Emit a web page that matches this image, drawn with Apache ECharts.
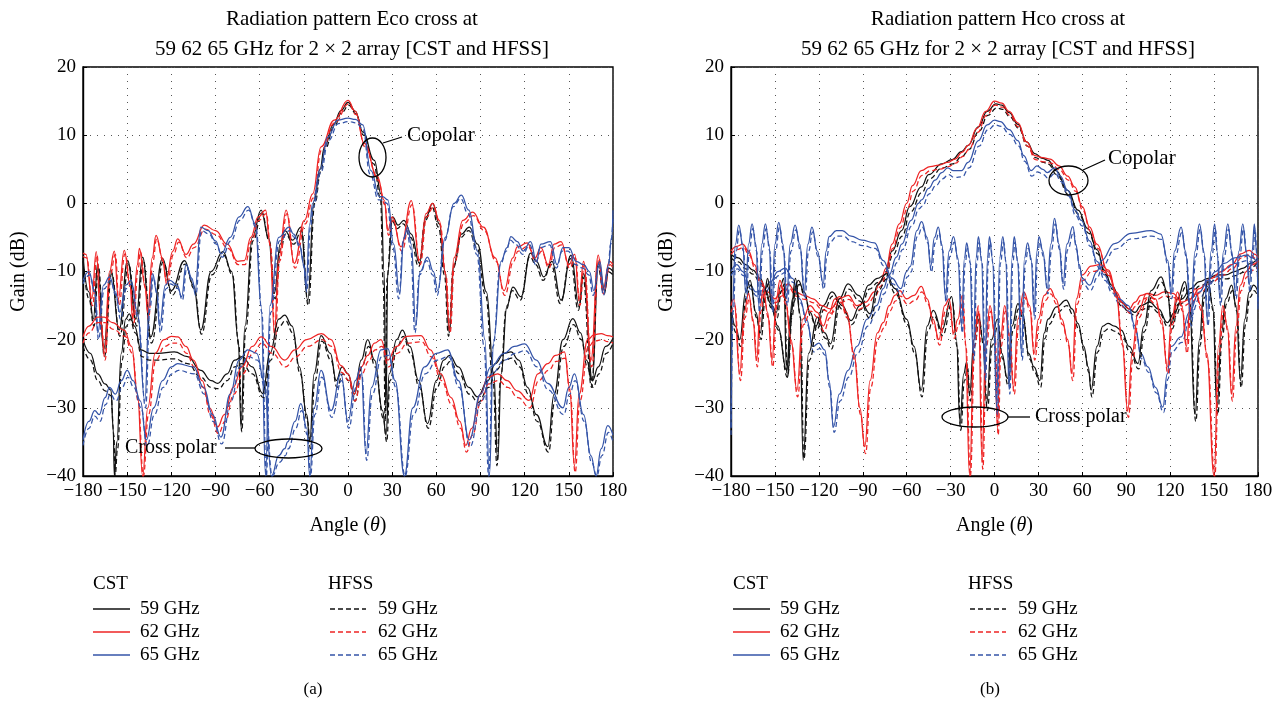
<!DOCTYPE html>
<html><head><meta charset="utf-8">
<script src="https://cdn.jsdelivr.net/npm/echarts@6/dist/echarts.min.js"></script>
<style>html,body{margin:0;padding:0;background:#fff}#c{width:1284px;height:710px}</style>
</head><body><div id="c"></div>
<script>
// ---------- tick labels / titles ----------
const xTicks = [-180,-150,-120,-90,-60,-30,0,30,60,90,120,150,180];
const yTicks = [-40,-30,-20,-10,0,10,20];
const titlesA = ['Radiation pattern Eco cross at','59 62 65 GHz for 2 × 2 array [CST and HFSS]'];
const titlesB = ['Radiation pattern Hco cross at','59 62 65 GHz for 2 × 2 array [CST and HFSS]'];
const freqs = ['59 GHz','62 GHz','65 GHz'];

// ---------- panel (a) : [angle, gain dB] ----------
const a_co59_cst = [[-180,-8],[-176,-13],[-173,-17],[-170,-8.8],[-166,-21.5],[-161,-9.8],[-155.5,-18.6],[-149.7,-8.4],[-144,-17],[-139.5,-7.9],[-134,-19.6],[-126,-8.1],[-120,-12.8],[-111,-8.4],[-105,-12],[-100,-18.6],[-93,-10],[-85,-7.1],[-79,-10],[-74.5,-20],[-72.7,-32.8],[-70,-18],[-65,-5],[-59,-1],[-54,-5],[-50,-13.2],[-46,-6],[-43,-4],[-37.6,-5.4],[-32,-3.5],[-27.4,-14.2],[-23,0.4],[-19,5],[-16,8.3],[-10,11.5],[-4.8,13.6],[0,14.8],[5,13.5],[10,10.5],[17.9,6.3],[22.4,1.4],[24.5,-10],[25.8,-30.4],[27,-10],[30.3,-2],[34,-3.2],[38,-2.5],[43,-4.5],[48.5,-8.8],[53,-2],[57.5,0],[62,-3],[66,-10],[68.8,-19],[72,-9],[77,-4.5],[82.4,-3.5],[88,-6],[94,-13],[99,-25],[101.7,-37.7],[104,-25],[108,-15],[112,-12.3],[117.5,-13.7],[124,-7.3],[128,-8.5],[133,-10.8],[138.5,-8.5],[144.7,-14.2],[151.5,-7.6],[157,-15.2],[160,-10.3],[166,-26],[170,-8.7],[174.5,-12.8],[177,-9.5],[180,-10]];
const a_co59_hfss = [[-180,-8.5],[-176,-14],[-172.5,-18],[-169.5,-9.3],[-165.5,-22.5],[-160.5,-10.3],[-155,-19.5],[-149,-8.9],[-143.5,-18],[-139,-8.4],[-133.5,-20.5],[-125.5,-8.6],[-119.5,-13.5],[-110.5,-8.9],[-104.5,-12.5],[-99.5,-19.2],[-92.5,-10.5],[-84.5,-7.6],[-78.5,-10.5],[-74,-21],[-72.2,-33.5],[-69.5,-18.5],[-64.5,-5.5],[-58.5,-1.4],[-53.5,-5.5],[-49.5,-14],[-45.5,-6.5],[-42.5,-4.5],[-37,-6],[-31.5,-4],[-27,-15],[-22.5,0],[-18.5,4.6],[-15.5,8],[-9.5,11.2],[-4.3,13.3],[0.5,14.4],[5.5,13.1],[10.5,10],[17.5,5.8],[22,0.8],[24,-12],[25.3,-32],[26.5,-11],[29.8,-2.5],[33.5,-3.7],[37.5,-3],[42.5,-5],[48,-9.3],[52.5,-2.5],[57,-0.5],[61.5,-3.5],[65.5,-10.5],[68.3,-19.5],[71.5,-9.5],[76.5,-5],[82,-4],[87.5,-6.5],[93.5,-13.5],[98.5,-26],[101.2,-38.5],[103.5,-26],[107.5,-15.5],[111.5,-12.8],[117,-14.2],[123.5,-7.8],[127.5,-9],[132.5,-11.3],[138,-9],[144.2,-14.7],[151,-8.1],[156.5,-15.7],[159.5,-10.8],[165.5,-27],[169.5,-9.2],[174,-13.3],[176.5,-10],[180,-10.5]];
const a_co62_cst = [[-180,-7.3],[-178,-7.5],[-174,-14],[-171,-7.1],[-168,-17],[-165.5,-22],[-162,-10],[-158.7,-7],[-156,-14],[-152,-6.9],[-148,-12],[-146.3,-17],[-143,-9],[-141.7,-6.6],[-138,-12],[-136,-16],[-133,-8],[-130.4,-4.7],[-126,-8],[-123.6,-11.3],[-119,-7],[-115.7,-5.2],[-110,-7.5],[-105,-6],[-97.6,-3.2],[-90,-4],[-82,-6],[-75,-8.5],[-70.4,-8.4],[-66,-5],[-61,-2],[-56,-1],[-53,-6],[-50,-19],[-47,-8],[-42,-1],[-36.5,-8.8],[-29.6,-2.5],[-24,1.4],[-18.3,8.3],[-9.3,12.2],[0,15.1],[5,13.5],[11,8.8],[20,3.9],[24.7,0.4],[27,-4],[30,-2],[36,-6.4],[43,0.4],[48.5,-8.3],[53,-1.5],[57.5,0],[62,-2.5],[66,-10],[68.8,-18.1],[72,-8],[78,-2.5],[84.7,-1.3],[92,-3.5],[100,-8],[106,-12.8],[112,-8],[115,-6.4],[121.7,-5.8],[127,-8],[131,-6.5],[136,-9],[140,-6],[144.7,-5.6],[150,-9],[154,-7.5],[157,-14],[160,-8.5],[165,-23],[170,-7.6],[173,-12.8],[177.6,-8.5],[180,-9]];
const a_co62_hfss = [[-180,-7.8],[-177.5,-8],[-173.5,-15],[-170.5,-7.6],[-167.5,-18],[-165,-23],[-161.5,-10.5],[-158,-7.5],[-155.5,-15],[-151.5,-7.4],[-147.5,-12.5],[-145.8,-18],[-142.5,-9.5],[-141,-7.1],[-137.5,-12.5],[-135.5,-17],[-132.5,-8.5],[-130,-5.2],[-125.5,-8.5],[-123,-12],[-118.5,-7.5],[-115,-5.7],[-109.5,-8],[-104.5,-6.5],[-97,-3.8],[-89.5,-4.6],[-81.5,-6.6],[-74.5,-9],[-70,-9],[-65.5,-5.5],[-60.5,-2.5],[-55.5,-1.5],[-52.5,-6.5],[-49.5,-20],[-46.5,-8.5],[-41.5,-1.5],[-36,-9.5],[-29,-3],[-23.5,0.8],[-18,7.8],[-9,11.8],[0.5,14.6],[5.5,13],[11.5,8.3],[20.5,3.4],[25,-0.2],[27.5,-4.7],[30.5,-2.5],[36.5,-7],[43.5,-0.2],[49,-9],[53.5,-2],[58,-0.5],[62.5,-3],[66.5,-10.5],[69.3,-19],[72.5,-8.5],[78.5,-3],[85.2,-1.8],[92.5,-4],[100.5,-8.5],[106.5,-13.5],[112.5,-8.5],[115.5,-7],[122.2,-6.3],[127.5,-8.5],[131.5,-7],[136.5,-9.5],[140.5,-6.5],[145.2,-6.1],[150.5,-9.5],[154.5,-8],[157.5,-15],[160.5,-9],[165.5,-24],[170.5,-8.1],[173.5,-13.3],[178,-9],[180,-9.5]];
const a_co65_cst = [[-180,-11.3],[-176,-10],[-172,-13],[-170,-19],[-166,-12],[-162,-10.8],[-158,-13],[-155,-16],[-151,-12],[-147.4,-11.3],[-143,-16],[-138,-29],[-135,-15],[-132.7,-10.3],[-130,-13],[-128,-18],[-124,-12],[-121,-11.3],[-116,-12],[-113,-13.7],[-110,-9],[-106,-11],[-104,-13],[-100,-3.5],[-95,-4],[-90,-5.5],[-86,-7.4],[-80,-5],[-74,-2],[-68,-0.5],[-63,-3],[-59,-15],[-56,-40],[-53,-15],[-47,-5],[-40,-3.5],[-37,-4.5],[-33,-6],[-30,-9],[-28.5,-12.3],[-26,-3],[-24,0],[-19,5],[-13.8,9.7],[-7,12.2],[0,12.5],[5,12.3],[10,11.5],[15.6,4.8],[21.3,1],[23.5,1],[27,0.5],[31,-6],[35,-13.2],[38,-5],[40.5,-3.5],[43,-6],[46,-18],[49,-10],[54,-7.9],[58,-10],[61,-12.8],[66,-5],[72,0],[77,1.2],[82,-1],[88,-7],[93,-20],[96,-40],[99,-20],[104,-8.5],[108,-6.5],[110.7,-4.9],[115,-5.6],[119,-7],[124,-5.6],[128,-8.5],[131,-6],[137.5,-5.6],[142,-9],[146,-6.5],[150,-6.5],[155,-8.5],[160,-9],[164,-10],[167,-12.8],[171,-8.5],[174,-12.8],[177,-9],[179,-5],[180,-1]];
const a_co65_hfss = [[-180,-11.8],[-175.5,-10.5],[-171.5,-13.5],[-169.5,-20],[-165.5,-12.5],[-161.5,-11.3],[-157.5,-13.5],[-154.5,-17],[-150.5,-12.5],[-147,-11.8],[-142.5,-17],[-137.5,-30],[-134.5,-15.5],[-132.2,-10.8],[-129.5,-13.5],[-127.5,-19],[-123.5,-12.5],[-120.5,-11.8],[-115.5,-12.5],[-112.5,-14.2],[-109.5,-9.5],[-105.5,-11.5],[-103.5,-13.5],[-99.5,-4],[-94.5,-4.5],[-89.5,-6],[-85.5,-7.9],[-79.5,-5.5],[-73.5,-2.5],[-67.5,-1],[-62.5,-3.5],[-58.5,-16],[-55.5,-40],[-52.5,-16],[-46.5,-5.5],[-39.5,-4],[-36.5,-5],[-32.5,-6.5],[-29.5,-9.5],[-28,-13],[-25.5,-3.5],[-23.5,-0.5],[-18.5,4.5],[-13.3,9.2],[-6.5,11.7],[0.5,12],[5.5,11.8],[10,11],[15,4.3],[20.8,0.5],[23,0.5],[26.5,0],[30.5,-6.5],[34.5,-14],[37.5,-5.5],[40,-4],[42.5,-6.5],[45.5,-19],[48.5,-10.5],[53.5,-8.4],[57.5,-10.5],[60.5,-13.5],[65.5,-5.5],[71.5,-0.5],[76.5,0.7],[81.5,-1.5],[87.5,-7.5],[92.5,-21],[95.5,-40],[98.5,-21],[103.5,-9],[107.5,-7],[110.2,-5.4],[114.5,-6.1],[118.5,-7.5],[123.5,-6.1],[127.5,-9],[130.5,-6.5],[137,-6.1],[141.5,-9.5],[145.5,-7],[149.5,-7],[154.5,-9],[159.5,-9.5],[163.5,-10.5],[166.5,-13.5],[170.5,-9],[173.5,-13.5],[176.5,-9.5],[178.5,-6],[180,-2]];
const a_x59_cst = [[-180,-20],[-175,-22],[-170,-25],[-165,-26.5],[-161,-27.4],[-159.5,-33],[-158.7,-40],[-157,-35],[-154,-22],[-151,-17],[-148.6,-16.2],[-145,-18],[-140.6,-21.5],[-135,-22],[-129,-22],[-118,-21.8],[-109,-22.5],[-100,-24.5],[-93,-26],[-88.5,-26.4],[-82,-25],[-77,-23],[-72,-22.5],[-65,-24],[-58,-27.9],[-53,-22],[-47,-17],[-43,-16.4],[-38,-18],[-33,-24],[-28,-31],[-26,-35],[-23,-25],[-18.3,-19.4],[-12,-22],[-8,-26],[-4,-24],[0,-25],[4.3,-28],[9,-23],[13.4,-20],[18,-23],[23.5,-30.4],[25.8,-34],[28,-25],[33,-20],[37,-18.6],[42,-21],[48,-26],[54,-32.3],[60,-26],[65,-23],[69,-22.3],[75,-24],[82,-27],[88,-28.4],[95,-26],[100,-23.5],[106,-22],[110.7,-21.8],[116,-23],[122,-27],[128,-31],[135.7,-35.7],[140,-28],[146,-20],[152.7,-16.9],[158,-19],[162,-23],[166,-26],[170,-24],[175,-21],[180,-19.8]];
const a_x59_hfss = [[-180,-21],[-175,-23],[-170,-26],[-165,-27.5],[-161,-28.2],[-159,-34],[-158.2,-40],[-156.5,-36],[-153.5,-23],[-150.5,-18],[-148,-17],[-144.5,-19],[-140,-22.5],[-135,-23],[-129,-23],[-118,-22.8],[-109,-23.5],[-100,-25.5],[-93,-27],[-88,-27.2],[-82,-26],[-77,-24],[-72,-23.5],[-65,-25],[-57.5,-28.5],[-52.5,-23],[-46.5,-18],[-42.5,-17.2],[-37.5,-19],[-32.5,-25],[-27.5,-32],[-25.5,-36],[-22.5,-26],[-17.8,-20.2],[-11.5,-23],[-7.5,-27],[-3.5,-25],[0.5,-26],[4.8,-29],[9.5,-24],[13.9,-21],[18.5,-24],[24,-31.5],[26.3,-35],[28.5,-26],[33.5,-21],[37.5,-19.5],[42.5,-22],[48.5,-27],[54.5,-33],[60.5,-27],[65.5,-24],[69.5,-23.2],[75.5,-25],[82.5,-28],[88.5,-29.2],[95.5,-27],[100.5,-24.5],[106.5,-23],[111.2,-22.7],[116.5,-24],[122.5,-28],[128.5,-32],[136.2,-36.5],[140.5,-29],[146.5,-21],[153.2,-17.8],[158.5,-20],[162.5,-24],[166.5,-27],[170.5,-25],[175.5,-22],[180,-20.5]];
const a_x62_cst = [[-180,-19.6],[-176,-18],[-170,-16.7],[-165.5,-16.7],[-160,-17.5],[-152,-18.6],[-147,-21],[-143,-28],[-139.5,-40],[-136,-30],[-131,-22],[-125,-20],[-120,-19.5],[-115.7,-19.6],[-110,-21],[-105,-23],[-99,-26],[-94,-30],[-88.5,-32.8],[-84,-31],[-78,-27],[-72,-24],[-65,-21],[-59,-19.6],[-52,-21],[-43,-23],[-36,-21.5],[-28,-20],[-18,-19.1],[-11.5,-20],[-4.8,-23.8],[0,-25],[4.3,-28],[9,-24],[13.4,-22.3],[18,-20.5],[22.4,-20],[27,-23],[33,-21],[40,-19.5],[49.6,-19.4],[56,-21.5],[63,-25],[70,-28.5],[76,-32],[80,-35.5],[84,-33],[90,-28],[95,-25.5],[101.7,-25],[108,-26],[115,-27.5],[123,-28.9],[129,-25],[135.7,-23.5],[141,-22.3],[147,-21.8],[150.5,-27],[153.8,-38.5],[157,-28],[162.8,-20],[167,-19.3],[172,-19.1],[176,-19.4],[180,-19.6]];
const a_x62_hfss = [[-180,-20.5],[-176,-19],[-170,-17.5],[-165,-17.5],[-159.5,-18.5],[-151.5,-19.5],[-146.5,-22],[-142.5,-29],[-139,-40],[-135.5,-31],[-130.5,-23],[-124.5,-21],[-119.5,-20.5],[-115.2,-20.5],[-109.5,-22],[-104.5,-24],[-98.5,-27],[-93.5,-31],[-88,-33.8],[-83.5,-32],[-77.5,-28],[-71.5,-25],[-64.5,-22],[-58.5,-20.5],[-51.5,-22],[-42.5,-24],[-35.5,-22.5],[-27.5,-21],[-17.5,-20],[-11,-21],[-4.3,-24.8],[0.5,-26],[4.8,-29],[9.5,-25],[13.9,-23.2],[18.5,-21.5],[23,-21],[27.5,-24],[33.5,-22],[40.5,-20.5],[50.1,-20.3],[56.5,-22.5],[63.5,-26],[70.5,-29.5],[76.5,-33],[80.5,-36.5],[84.5,-34],[90.5,-29],[95.5,-26.5],[102.2,-26],[108.5,-27],[115.5,-28.5],[123.5,-30],[129.5,-26],[136.2,-24.5],[141.5,-23.2],[147.5,-22.7],[151,-28],[154.3,-39.5],[157.5,-29],[163.3,-21],[167.5,-20.2],[172.5,-20],[176.5,-20.3],[180,-20.5]];
const a_x65_cst = [[-180,-34.7],[-176,-32],[-172,-30.4],[-169,-31],[-165,-28.5],[-162,-27],[-158,-28],[-154,-26],[-150,-24.5],[-146,-26],[-141,-29],[-137,-34.7],[-132,-30],[-126,-26],[-120,-24],[-115.7,-23.5],[-105,-24],[-98,-27],[-92,-31],[-86.3,-34.3],[-80,-28],[-74,-23],[-68,-21.5],[-62,-22],[-57,-26],[-52,-40],[-47,-37],[-43,-36],[-41,-35],[-36,-32],[-32,-29.4],[-28,-33],[-26,-40],[-23,-30],[-18.3,-24.5],[-11.5,-30.4],[-4.8,-25],[0,-32],[5,-26],[8.8,-24],[12.2,-36.7],[16,-27],[22.4,-21.5],[27,-21.3],[32,-26],[38.3,-40],[44,-30],[52,-24],[60,-22],[67.7,-21.5],[75,-26],[82.4,-34.7],[90,-28],[97,-24],[106,-22],[113,-21],[120,-20.6],[128,-23],[135.6,-26.4],[146,-30],[150,-27],[153.8,-25],[160,-31],[165,-37],[168.5,-40],[172,-36],[176.4,-32.6],[180,-34]];
const a_x65_hfss = [[-180,-35.5],[-176,-33],[-172,-31.2],[-168.5,-32],[-164.5,-29.5],[-161.5,-28],[-157.5,-29],[-153.5,-27],[-149.5,-25.5],[-145.5,-27],[-140.5,-30],[-136.5,-35.7],[-131.5,-31],[-125.5,-27],[-119.5,-25],[-115.2,-24.5],[-104.5,-25],[-97.5,-28],[-91.5,-32],[-85.8,-35.3],[-79.5,-29],[-73.5,-24],[-67.5,-22.5],[-61.5,-23],[-56.5,-27],[-51.5,-40],[-46.5,-38],[-42.5,-37],[-40.5,-36],[-35.5,-33],[-31.5,-30.4],[-27.5,-34],[-25.5,-40],[-22.5,-31],[-17.8,-25.5],[-11,-31.4],[-4.3,-26],[0.5,-33],[5.5,-27],[9.3,-25],[12.7,-37.7],[16.5,-28],[22.9,-22.5],[27.5,-22.3],[32.5,-27],[38.8,-40],[44.5,-31],[52.5,-25],[60.5,-23],[68.2,-22.5],[75.5,-27],[82.9,-35.7],[90.5,-29],[97.5,-25],[106.5,-23],[113.5,-22],[120.5,-21.6],[128.5,-24],[136.1,-27.4],[146.5,-31],[150.5,-28],[154.3,-26],[160.5,-32],[165.5,-38],[169,-40],[172.5,-37],[176.9,-33.6],[180,-35]];

// ---------- panel (b) ----------
const b_co59_cst = [[-180,-7.5],[-175,-8],[-170,-9],[-165,-9.8],[-160,-11],[-156,-13],[-153,-14.7],[-148,-18],[-142,-24.5],[-138,-14],[-134,-11.3],[-130,-13],[-126,-16],[-122,-18],[-117,-15],[-111,-13],[-104,-15],[-98,-17.2],[-92,-15],[-86,-12],[-80,-11],[-75,-10.5],[-70,-7],[-63.4,-4],[-58,-0.5],[-50,2.4],[-45,4.2],[-36,5.8],[-29,6.4],[-22.5,7.6],[-18,8.5],[-11,11.2],[-5,13.5],[1,14.6],[5,14.4],[10,13.3],[16,11.6],[22,9],[27.5,7.3],[33,6.6],[36.6,6.3],[42,4.8],[50,1.9],[57,-1],[64,-3.8],[70,-6.8],[75,-9.8],[80,-12],[86.6,-14.5],[92,-15.5],[96,-16],[100,-15],[106,-14.5],[112,-15.5],[118,-17.5],[123,-16],[128,-14],[134,-12.5],[140,-11.5],[146,-11],[152,-10.5],[158,-10.5],[164,-10],[170,-9.5],[175,-8.8],[180,-8]];
const b_co59_hfss = [[-180,-8],[-175,-8.6],[-170,-9.6],[-165,-10.4],[-160,-11.6],[-156,-13.6],[-152.5,-15.3],[-147.5,-18.6],[-141.5,-25.5],[-137.5,-14.6],[-133.5,-11.9],[-129.5,-13.6],[-125.5,-16.6],[-121.5,-18.6],[-116.5,-15.6],[-110.5,-13.6],[-103.5,-15.6],[-97.5,-17.8],[-91.5,-15.6],[-85.5,-12.6],[-79.5,-11.6],[-74.5,-11],[-69.5,-7.6],[-63,-4.8],[-57.5,-1.3],[-49.5,1.6],[-44.5,3.6],[-35.5,5.2],[-28.5,5.8],[-22,6.9],[-17.5,7.9],[-10.5,10.6],[-4.5,12.9],[1.5,14],[5.5,13.8],[10.5,12.7],[16.5,11],[22.5,8.4],[28,6.7],[33.5,6],[37,5.7],[42.5,4.2],[50.5,1.3],[57.5,-1.6],[64.5,-4.4],[70.5,-7.4],[75.5,-10.4],[80.5,-12.6],[87,-15.1],[92.5,-16.1],[96.5,-16.6],[100.5,-15.6],[106.5,-15.1],[112.5,-16.1],[118.5,-18.1],[123.5,-16.6],[128.5,-14.6],[134.5,-13.1],[140.5,-12.1],[146.5,-11.6],[152.5,-11.1],[158.5,-11.1],[164.5,-10.6],[170.5,-10.1],[175.5,-9.4],[180,-8.6]];
const b_co62_cst = [[-180,-7],[-176,-6.3],[-172,-6],[-168,-7],[-164,-9],[-160,-11.3],[-155,-13],[-150,-14],[-146,-13],[-141,-11.8],[-136,-13],[-130,-13.5],[-124,-14],[-118,-15],[-112,-15.5],[-106,-14],[-100,-13.5],[-94,-15],[-88,-14.5],[-82,-13],[-78,-11.5],[-74,-9.5],[-70,-6],[-65,-3],[-60,0],[-56,2.6],[-50,4.8],[-44,5.4],[-38,5.6],[-32,6],[-27,6.5],[-22,7.5],[-18,8.5],[-12,11],[-6,13.5],[0,15],[5,14.7],[10,13.5],[16,11.8],[22,9],[27.5,7],[33,6.7],[38,6.5],[44,5.5],[50,4],[54.8,2.4],[60,-0.5],[65,-3.5],[70,-6],[77.5,-10],[83,-13],[88,-14.7],[92,-15.5],[96,-14.5],[100,-13.5],[105,-13.2],[110,-13.5],[116,-13],[121.8,-13.2],[128,-14.5],[134,-14],[140,-12.5],[148,-11],[155,-10],[162,-9],[168.4,-7.4],[174,-6.9],[178,-7.5],[180,-8]];
const b_co62_hfss = [[-180,-7.5],[-176,-6.8],[-171.5,-6.5],[-167.5,-7.6],[-163.5,-9.6],[-159.5,-11.9],[-154.5,-13.6],[-149.5,-14.6],[-145.5,-13.6],[-140.5,-12.4],[-135.5,-13.6],[-129.5,-14.1],[-123.5,-14.6],[-117.5,-15.6],[-111.5,-16.1],[-105.5,-14.6],[-99.5,-14.1],[-93.5,-15.6],[-87.5,-15.1],[-81.5,-13.6],[-77.5,-12.1],[-73.5,-10.1],[-69.5,-6.6],[-64.5,-3.6],[-59.5,-0.8],[-55.5,1.8],[-49.5,4.1],[-43.5,4.8],[-37.5,5],[-31.5,5.4],[-26.5,5.9],[-21.5,6.9],[-17.5,7.9],[-11.5,10.4],[-5.5,12.9],[0.5,14.4],[5.5,14.1],[10.5,12.9],[16.5,11.2],[22.5,8.4],[28,6.4],[33.5,6.1],[38.5,5.9],[44.5,4.9],[50.5,3.4],[55.3,1.8],[60.5,-1.1],[65.5,-4.1],[70.5,-6.6],[78,-10.6],[83.5,-13.6],[88.5,-15.3],[92.5,-16.1],[96.5,-15.1],[100.5,-14.1],[105.5,-13.8],[110.5,-14.1],[116.5,-13.6],[122.3,-13.8],[128.5,-15.1],[134.5,-14.6],[140.5,-13.1],[148.5,-11.6],[155.5,-10.6],[162.5,-9.6],[168.9,-8],[174.5,-7.5],[178.5,-8.1],[180,-8.6]];
const b_co65_cst = [[-180,-10],[-176,-9],[-172,-10],[-167,-12],[-163,-13],[-158,-12.8],[-153,-11.5],[-148,-10],[-143,-9.5],[-138,-11],[-133,-14],[-128.4,-17],[-124,-21],[-120,-20.5],[-116,-21.5],[-113,-26],[-110,-32.8],[-106,-28],[-100,-24.5],[-94,-21],[-87,-17],[-80.6,-15],[-76,-12.5],[-72,-10.5],[-67,-7.9],[-63.4,-6],[-57,-2.5],[-52,0],[-49.8,0.5],[-45,2.2],[-40.6,3.4],[-36,4.5],[-32,5.2],[-28,4.8],[-22.5,4.8],[-18,6],[-11,9.2],[-5,11.5],[0,12.2],[4,12],[10,10.8],[16,9.2],[20,7],[25,4.8],[29,5.5],[33,5],[36,4.5],[41,5.2],[45,4],[50,1.9],[55,-1],[59.3,-2.5],[65,-5.5],[70,-8.5],[75,-10.5],[79.8,-12.3],[85,-14],[91.5,-15],[96,-18],[100,-22],[104.8,-24],[110,-27],[115,-29.9],[118,-25],[120.6,-21],[127.5,-19.6],[133,-16],[140,-13],[145.7,-11.3],[151,-10],[157,-8.8],[164,-8],[172.6,-7.6],[176,-8],[180,-9]];
const b_co65_hfss = [[-180,-10.6],[-175.5,-9.6],[-171.5,-10.6],[-166.5,-12.6],[-162.5,-13.6],[-157.5,-13.4],[-152.5,-12.1],[-147.5,-10.6],[-142.5,-10.1],[-137.5,-11.6],[-132.5,-14.6],[-127.9,-17.8],[-123.5,-21.8],[-119.5,-21.3],[-115.5,-22.3],[-112.5,-27],[-109.5,-33.6],[-105.5,-29],[-99.5,-25.5],[-93.5,-22],[-86.5,-18],[-80.1,-15.8],[-75.5,-13.3],[-71.5,-11.3],[-66.5,-8.7],[-62.9,-6.8],[-56.5,-3.3],[-51.5,-0.8],[-49.3,-0.4],[-44.5,1.4],[-40.1,2.6],[-35.5,3.6],[-31.5,4.2],[-27.5,3.8],[-22,3.9],[-17.5,5.2],[-10.5,8.4],[-4.5,10.8],[0.5,11.5],[4.5,11.3],[10.5,10.1],[16.5,8.4],[20.5,6.2],[25.5,4],[29.5,4.6],[33.5,4.2],[36.5,3.7],[41.5,4.4],[45.5,3.2],[50.5,1.1],[55.5,-1.8],[59.8,-3.3],[65.5,-6.3],[70.5,-9.3],[75.5,-11.3],[80.3,-13.1],[85.5,-14.8],[92,-15.8],[96.5,-18.8],[100.5,-22.8],[105.3,-24.8],[110.5,-27.8],[115.5,-30.7],[118.5,-25.8],[121.1,-21.8],[128,-20.4],[133.5,-16.8],[140.5,-13.8],[146.2,-12.1],[151.5,-10.8],[157.5,-9.6],[164.5,-8.8],[173.1,-8.4],[176.5,-8.8],[180,-9.8]];
const b_x59_cst = [[-180,-15],[-177,-18],[-174,-20],[-170,-13],[-167,-11.3],[-163,-16],[-160,-19],[-157,-13],[-155,-11],[-152,-15],[-149,-16],[-146,-12],[-144,-11],[-142,-24.5],[-139,-16],[-136,-11],[-133,-16],[-130.7,-37.7],[-127,-22],[-121,-16.7],[-116,-19],[-112,-20.6],[-106,-14],[-100,-11.8],[-93,-13.5],[-85,-16.2],[-80,-12],[-74,-10.3],[-68,-12.5],[-60,-17],[-55,-21],[-50,-27.4],[-46,-18],[-41.8,-15.7],[-36,-18.6],[-29.3,-13.7],[-26,-20],[-23.6,-32.3],[-21,-25],[-19,-23.3],[-17,-28],[-14,-20],[-11,-16.2],[-8,-20],[-5.4,-29.4],[-2,-20],[2,-17],[5,-22],[8.8,-25.7],[12,-18],[16,-14.7],[19,-16],[23.3,-22],[27,-24],[31,-26],[34,-19],[36.6,-17],[42.3,-15.2],[49,-14.2],[53,-15.5],[57,-17.6],[61,-21],[64,-24],[66,-27.4],[70,-21],[74,-18],[77.5,-17.6],[82,-18],[86.6,-18.6],[92,-21],[98,-23.5],[102,-18],[107,-12.8],[113.8,-10.8],[118,-13],[121,-17.6],[125,-14],[130,-11.5],[133,-14],[137,-31],[140,-20],[143,-13],[146,-11.5],[149,-15],[152,-30],[155,-19],[158,-14],[162,-12],[165,-15],[168,-26],[171,-17],[174,-13],[177,-12],[180,-13]];
const b_x59_hfss = [[-180,-16],[-176.5,-19],[-173.5,-21],[-169.5,-13.8],[-166.5,-12],[-162.5,-16.8],[-159.5,-20],[-156.5,-13.8],[-154.5,-11.8],[-151.5,-15.8],[-148.5,-16.8],[-145.5,-12.8],[-143.5,-11.8],[-141.5,-25.5],[-138.5,-16.8],[-135.5,-11.8],[-132.5,-16.8],[-130.2,-37.5],[-126.5,-23],[-120.5,-17.5],[-115.5,-19.8],[-111.5,-21.4],[-105.5,-14.8],[-99.5,-12.6],[-92.5,-14.3],[-84.5,-17],[-79.5,-12.8],[-73.5,-11.1],[-67.5,-13.3],[-59.5,-17.8],[-54.5,-22],[-49.5,-28.4],[-45.5,-18.8],[-41.3,-16.5],[-35.5,-19.4],[-28.8,-14.5],[-25.5,-21],[-23.1,-33.3],[-20.5,-26],[-18.5,-24.1],[-16.5,-29],[-13.5,-20.8],[-10.5,-17],[-7.5,-20.8],[-4.9,-30.4],[-1.5,-20.8],[2.5,-17.8],[5.5,-22.8],[9.3,-26.7],[12.5,-18.8],[16.5,-15.5],[19.5,-16.8],[23.8,-22.8],[27.5,-24.8],[31.5,-27],[34.5,-19.8],[37.1,-17.8],[42.8,-16],[49.5,-15],[53.5,-16.3],[57.5,-18.4],[61.5,-21.8],[64.5,-24.8],[66.5,-28.4],[70.5,-21.8],[74.5,-18.8],[78,-18.4],[82.5,-18.8],[87.1,-19.4],[92.5,-21.8],[98.5,-24.3],[102.5,-18.8],[107.5,-13.6],[114.3,-11.6],[118.5,-13.8],[121.5,-18.4],[125.5,-14.8],[130.5,-12.3],[133.5,-14.8],[137.5,-32],[140.5,-20.8],[143.5,-13.8],[146.5,-12.3],[149.5,-15.8],[152.5,-31],[155.5,-19.8],[158.5,-14.8],[162.5,-12.8],[165.5,-15.8],[168.5,-27],[171.5,-17.8],[174.5,-13.8],[177.5,-12.8],[180,-13.8]];
const b_x62_cst = [[-180,-15],[-178,-14],[-174,-25],[-171,-16],[-168,-13.2],[-165,-17],[-162.5,-23],[-160,-15],[-158,-12.5],[-155,-16],[-152,-23],[-149,-14],[-146.6,-11.3],[-143,-14],[-139,-20],[-135,-27.4],[-131,-17],[-126,-15],[-121,-16],[-117,-18],[-113,-16],[-109,-14],[-105.7,-13.7],[-101,-16],[-96,-22],[-92,-30],[-88.6,-35.7],[-85,-26],[-80,-19],[-76,-17.5],[-72,-15],[-68,-13.5],[-64.8,-12.8],[-60,-14],[-55,-13.5],[-50,-12.2],[-46,-14],[-42,-17],[-38,-20],[-34,-15],[-31,-14],[-28,-19],[-25,-17],[-22,-13.5],[-20,-20],[-17,-40],[-14,-20],[-11,-15],[-8.5,-38],[-6,-20],[-3,-15],[0,-19],[2,-33],[4,-20],[7,-15],[10,-19],[13,-27],[16,-17],[20,-13],[24,-15],[27,-22],[30,-17],[34,-13.5],[38,-12.5],[42,-14],[46,-17],[50,-20],[53,-25],[56,-14],[60,-10.5],[66,-9.2],[72,-9],[78,-9.8],[83,-13],[87,-20],[91,-30.4],[94,-22],[98,-16],[104,-13.2],[110,-14],[114,-17],[118,-24],[121,-17],[125,-13],[128,-15],[131,-21],[134,-14],[137,-12.5],[141,-15],[145,-22],[150,-40],[153,-21],[156,-15],[159,-18],[162,-28],[165,-18],[168,-12],[172,-10],[176,-9],[180,-8.5]];
const b_x62_hfss = [[-180,-16],[-177.5,-15],[-173.5,-26],[-170.5,-16.8],[-167.5,-14],[-164.5,-17.8],[-162,-24],[-159.5,-15.8],[-157.5,-13.3],[-154.5,-16.8],[-151.5,-24],[-148.5,-14.8],[-146.1,-12.1],[-142.5,-14.8],[-138.5,-20.8],[-134.5,-28.4],[-130.5,-17.8],[-125.5,-15.8],[-120.5,-16.8],[-116.5,-18.8],[-112.5,-16.8],[-108.5,-14.8],[-105.2,-14.5],[-100.5,-16.8],[-95.5,-23],[-91.5,-31],[-88.1,-36.7],[-84.5,-27],[-79.5,-19.8],[-75.5,-18.3],[-71.5,-15.8],[-67.5,-14.3],[-64.3,-13.6],[-59.5,-14.8],[-54.5,-14.3],[-49.5,-13],[-45.5,-14.8],[-41.5,-17.8],[-37.5,-20.8],[-33.5,-15.8],[-30.5,-14.8],[-27.5,-19.8],[-24.5,-17.8],[-21.5,-14.3],[-19.5,-21],[-16.5,-40],[-13.5,-21],[-10.5,-15.8],[-8,-39],[-5.5,-21],[-2.5,-15.8],[0.5,-19.8],[2.5,-34],[4.5,-21],[7.5,-15.8],[10.5,-19.8],[13.5,-28],[16.5,-17.8],[20.5,-13.8],[24.5,-15.8],[27.5,-23],[30.5,-17.8],[34.5,-14.3],[38.5,-13.3],[42.5,-14.8],[46.5,-17.8],[50.5,-20.8],[53.5,-26],[56.5,-14.8],[60.5,-11.3],[66.5,-10],[72.5,-9.8],[78.5,-10.6],[83.5,-13.8],[87.5,-20.8],[91.5,-31.4],[94.5,-22.8],[98.5,-16.8],[104.5,-14],[110.5,-14.8],[114.5,-17.8],[118.5,-25],[121.5,-17.8],[125.5,-13.8],[128.5,-15.8],[131.5,-22],[134.5,-14.8],[137.5,-13.3],[141.5,-15.8],[145.5,-23],[150.5,-40],[153.5,-22],[156.5,-15.8],[159.5,-18.8],[162.5,-29],[165.5,-18.8],[168.5,-12.8],[172.5,-10.8],[176.5,-9.8],[180,-9.3]];
const b_x65_cst = [[-180,-33],[-179,-15],[-177,-6],[-174.7,-3.2],[-172,-6],[-170,-13],[-168,-6],[-165.6,-3],[-163,-6],[-161,-15],[-159,-6],[-156.5,-3],[-154,-6],[-152,-15],[-150,-6],[-147.4,-2.8],[-144.5,-6],[-142,-14],[-139.5,-6],[-136.2,-3.2],[-133,-6],[-130,-13],[-127.5,-6],[-124.7,-3.5],[-121,-7],[-117,-11.8],[-115,-7],[-113,-4.9],[-108,-4],[-104,-4],[-98,-4.8],[-90.7,-5.4],[-82,-5.8],[-76,-8.4],[-70,-11],[-64,-12.5],[-60,-10],[-57.7,-9.3],[-53,-4],[-49.8,-2.7],[-46,-5],[-43.6,-9.3],[-41,-5],[-38.4,-3.5],[-36,-6],[-33.5,-13.7],[-31,-7],[-28,-4.9],[-25,-8],[-22.5,-18],[-20.5,-8],[-19,-5.8],[-17,-8],[-14.5,-22],[-12.5,-8],[-11,-4.9],[-9,-8],[-6.5,-25],[-4.8,-8],[-3.4,-4.9],[-1.5,-8],[1.5,-29.9],[3.5,-8],[5.7,-4.9],[7.5,-8],[10,-27],[12,-8],[13.5,-4.9],[15.5,-8],[18.5,-22],[20.5,-8],[22.6,-5.8],[25,-8],[27,-16],[29,-7],[30.4,-4.9],[33,-7],[36,-12.5],[38.5,-6],[41,-2.2],[44,-6],[46.8,-11.8],[49.5,-6],[53.6,-3.4],[55.5,-6],[57.9,-9],[60,-11],[65,-12],[70,-10],[73,-8.4],[82,-5.9],[93.4,-4.4],[107,-4],[113.6,-4.5],[118.4,-8.4],[120.6,-13.2],[123,-7],[127.5,-3.5],[130.5,-7],[134,-17],[137,-7],[140,-3],[143,-7],[145.3,-17],[148,-7],[150.4,-3],[152,-7],[154,-14],[156.5,-7],[159.4,-3],[162,-7],[164.5,-13],[167,-7],[169.6,-3],[172,-7],[174,-12],[176,-7],[177.5,-3],[179,-7],[180,-15]];
const b_x65_hfss = [[-180,-34],[-178.5,-16],[-176.5,-7],[-174.2,-3.9],[-171.5,-7],[-169.5,-14],[-167.5,-7],[-165.1,-3.7],[-162.5,-7],[-160.5,-16],[-158.5,-7],[-156,-3.7],[-153.5,-7],[-151.5,-16],[-149.5,-7],[-146.9,-3.5],[-144,-7],[-141.5,-15],[-139,-7],[-135.7,-3.9],[-132.5,-7],[-129.5,-14],[-127,-7],[-124.2,-4.2],[-120.5,-7.8],[-116.5,-12.6],[-114.5,-7.8],[-112.5,-5.7],[-107.5,-4.8],[-103.5,-4.8],[-97.5,-5.6],[-90.2,-6.2],[-81.5,-6.6],[-75.5,-9.2],[-69.5,-11.8],[-63.5,-13.3],[-59.5,-10.8],[-57.2,-10.1],[-52.5,-4.8],[-49.3,-3.5],[-45.5,-5.8],[-43.1,-10.1],[-40.5,-5.8],[-37.9,-4.3],[-35.5,-6.8],[-33,-14.5],[-30.5,-7.8],[-27.5,-5.7],[-24.5,-8.8],[-22,-19],[-20,-8.8],[-18.5,-6.6],[-16.5,-8.8],[-14,-23],[-12,-8.8],[-10.5,-5.7],[-8.5,-8.8],[-6,-26],[-4.3,-8.8],[-2.9,-5.7],[-1,-8.8],[2,-31],[4,-8.8],[6.2,-5.7],[8,-8.8],[10.5,-28],[12.5,-8.8],[14,-5.7],[16,-8.8],[19,-23],[21,-8.8],[23.1,-6.6],[25.5,-8.8],[27.5,-17],[29.5,-7.8],[30.9,-5.7],[33.5,-7.8],[36.5,-13.3],[39,-6.8],[41.5,-3],[44.5,-6.8],[47.3,-12.6],[50,-6.8],[54.1,-4.2],[56,-6.8],[58.4,-9.8],[60.5,-11.8],[65.5,-12.8],[70.5,-10.8],[73.5,-9.2],[82.5,-6.7],[93.9,-5.2],[107.5,-4.8],[114.1,-5.3],[118.9,-9.2],[121.1,-14],[123.5,-7.8],[128,-4.3],[131,-7.8],[134.5,-18],[137.5,-7.8],[140.5,-3.8],[143.5,-7.8],[145.8,-18],[148.5,-7.8],[150.9,-3.8],[152.5,-7.8],[154.5,-15],[157,-7.8],[159.9,-3.8],[162.5,-7.8],[165,-14],[167.5,-7.8],[170.1,-3.8],[172.5,-7.8],[174.5,-13],[176.5,-7.8],[178,-3.8],[179.3,-7.8],[180,-16]];

// ---------- rendering ----------
const FONT = '"Liberation Serif","DejaVu Serif",serif';
const COL = ['#111111','#ee2424','#3454a8'];
const chart = echarts.init(document.getElementById('c'), null, {renderer:'canvas'});
const fmt = v => String(v).replace('-', '\u2212');
const grids = [{left:83, top:67, width:530, height:409, show:true, borderColor:'#000', borderWidth:1.4, backgroundColor:'transparent'},
               {left:731, top:67, width:527, height:409, show:true, borderColor:'#000', borderWidth:1.4, backgroundColor:'transparent'}];
function xAx(i){return {type:'value', gridIndex:i, min:xTicks[0], max:xTicks[xTicks.length-1], interval:30,
  name:'Angle ({i|θ})', nameLocation:'middle', nameGap:40,
  nameTextStyle:{fontFamily:FONT, fontSize:20, color:'#000', rich:{i:{fontFamily:FONT, fontSize:20, fontStyle:'italic', color:'#000'}}},
  axisLine:{show:true, onZero:false, lineStyle:{color:'#000', width:1.4}}, axisTick:{inside:true, length:4, lineStyle:{color:'#000'}},
  axisLabel:{formatter:fmt, fontFamily:FONT, fontSize:19, color:'#000', margin:6},
  splitLine:{show:true, lineStyle:{color:'#555', type:[1,6], width:1}}};}
function yAx(i){return {type:'value', gridIndex:i, min:yTicks[0], max:yTicks[yTicks.length-1], interval:10,
  name:'Gain (dB)', nameLocation:'middle', nameGap:54, nameRotate:90,
  nameTextStyle:{fontFamily:FONT, fontSize:20, color:'#000'},
  axisLine:{show:true, onZero:false, lineStyle:{color:'#000', width:1.4}}, axisTick:{inside:true, length:4, lineStyle:{color:'#000'}},
  axisLabel:{formatter:fmt, fontFamily:FONT, fontSize:19, color:'#000', margin:7},
  splitLine:{show:true, lineStyle:{color:'#555', type:[1,6], width:1}}};}
function mk(data, ci, dashed, g){
  return {type:'line', xAxisIndex:g, yAxisIndex:g, data:data, showSymbol:false, symbol:'none',
    smooth:0.45, smoothMonotone:'x', clip:true, animation:false,
    lineStyle:{color:COL[ci], width:1.25, type: dashed ? [5,3] : 'solid'}};
}
const series = [];
const panels = [
  [[a_co59_cst,a_co59_hfss],[a_co62_cst,a_co62_hfss],[a_co65_cst,a_co65_hfss],[a_x59_cst,a_x59_hfss],[a_x62_cst,a_x62_hfss],[a_x65_cst,a_x65_hfss]],
  [[b_co59_cst,b_co59_hfss],[b_co62_cst,b_co62_hfss],[b_co65_cst,b_co65_hfss],[b_x59_cst,b_x59_hfss],[b_x62_cst,b_x62_hfss],[b_x65_cst,b_x65_hfss]]
];
panels.forEach((p,g)=>{ p.forEach((pair,k)=>{ series.push(mk(pair[0], k%3, false, g)); series.push(mk(pair[1], k%3, true, g)); }); });

// legend + annotations (graphic elements)
const T = (x,y,t,size,extra) => Object.assign({type:'text', x:x, y:y, z:10, style:{text:t, font:(size||19)+'px '+FONT, fill:'#000', textVerticalAlign:'middle'}}, extra||{});
function legendBlock(x0, x1){
  const els = [T(x0, 584, 'CST'), T(x1, 584, 'HFSS')];
  [609,632,655].forEach((y,i)=>{
    els.push({type:'line', shape:{x1:x0, y1:y, x2:x0+37, y2:y}, style:{stroke:COL[i], lineWidth:1.3}});
    els.push(T(x0+47, y, freqs[i]));
    els.push({type:'line', shape:{x1:x1+2, y1:y, x2:x1+38, y2:y}, style:{stroke:COL[i], lineWidth:1.3, lineDash:[5,3]}});
    els.push(T(x1+50, y, freqs[i]));
  });
  return els;
}
const ell = (cx,cy,rx,ry) => ({type:'ellipse', shape:{cx:cx, cy:cy, rx:rx, ry:ry}, style:{stroke:'#000', fill:'none', lineWidth:1.3}, z:10});
const seg = (x1,y1,x2,y2) => ({type:'line', shape:{x1:x1,y1:y1,x2:x2,y2:y2}, style:{stroke:'#000', lineWidth:1.3}, z:10});
const graphic = [].concat(
  legendBlock(93, 328), legendBlock(733, 968),
  [{type:'text', x:313, y:690, style:{text:'(a)', font:'17px '+FONT, fill:'#000', textAlign:'center', textVerticalAlign:'middle'}},
   {type:'text', x:990, y:690, style:{text:'(b)', font:'17px '+FONT, fill:'#000', textAlign:'center', textVerticalAlign:'middle'}},
   ell(372.5,157.5,13.5,19.5), seg(383,143,402,137), T(407,135,'Copolar',21),
   ell(288.5,448.5,33.5,9.5), seg(225,448,255,448), T(125,448,'Cross polar',20),
   ell(1068.5,180.5,19.5,14.5), seg(1083,170,1105,160), T(1108,158,'Copolar',21),
   ell(975,417,33,10), seg(1008,417,1030,417), T(1035,417,'Cross polar',20)]
);

chart.setOption({
  animation:false,
  backgroundColor:'#fff',
  title:[
    {text:titlesA.join('\n'), left:347, top:-1, textAlign:'center', textStyle:{fontFamily:FONT, fontSize:21, fontWeight:'normal', color:'#000', lineHeight:30}},
    {text:titlesB.join('\n'), left:993, top:-1, textAlign:'center', textStyle:{fontFamily:FONT, fontSize:21, fontWeight:'normal', color:'#000', lineHeight:30}}
  ],
  grid:grids, xAxis:[xAx(0), xAx(1)], yAxis:[yAx(0), yAx(1)],
  series:series, graphic:graphic
});
</script></body></html>
